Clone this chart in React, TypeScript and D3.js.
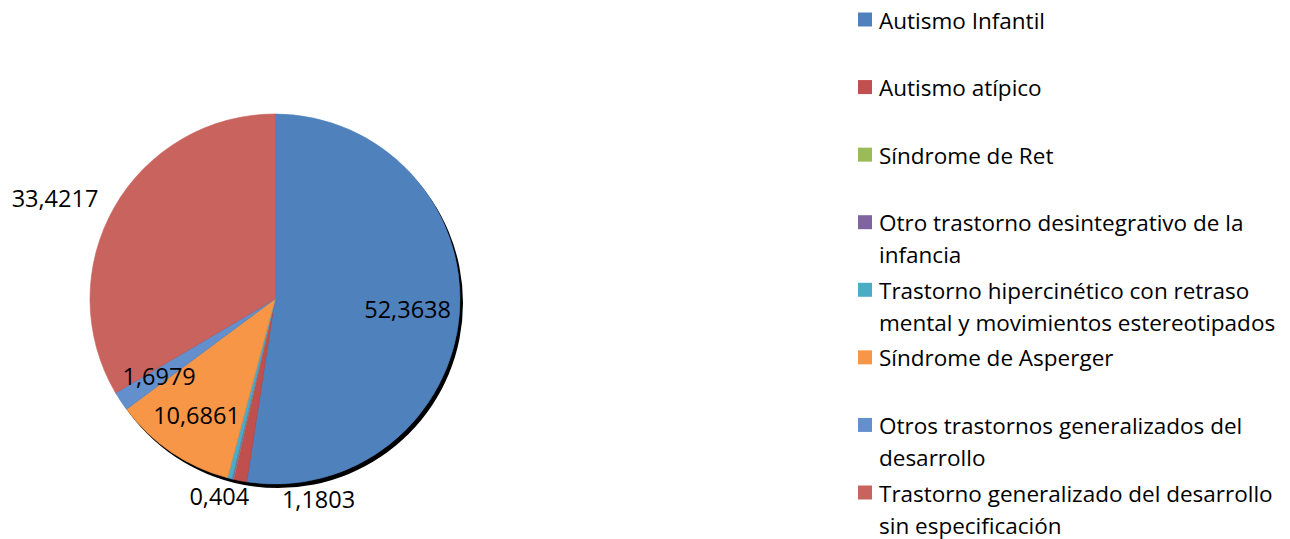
import { useEffect, useMemo } from 'react';
import * as d3 from 'd3';

const CATEGORIES = [
  'Autismo Infantil',
  'Autismo atípico',
  'Síndrome de Ret',
  'Otro trastorno desintegrativo de la\ninfancia',
  'Trastorno hipercinético con retraso\nmental y movimientos estereotipados',
  'Síndrome de Asperger',
  'Otros trastornos generalizados del\ndesarrollo',
  'Trastorno generalizado del desarrollo\nsin especificación',
];
const VALUES = [52.3638, 1.1803, 0, 0.1, 0.404, 10.6861, 1.6979, 33.4217];
const VALUE_LABELS = ['52,3638', '1,1803', '', '', '0,404', '10,6861', '1,6979', '33,4217'];
const SLICE_COLORS = ['#4F81BD', '#C0504D', '#9BBB59', '#8064A2', '#4BACC6', '#F79646', '#6390CC', '#C9635E'];
const OUTSIDE = ['Autismo atípico', 'Trastorno hipercinético con retraso\nmental y movimientos estereotipados', 'Trastorno generalizado del desarrollo\nsin especificación'];

const W = 1290, H = 539;
const FONT = '"Open Sans", Lato, sans-serif';
const LABEL_SIZE = 23.5;
const LEGEND_SIZE = 22.5;

export default function App() {
  useEffect(() => {
    document.body.style.margin = '0';
  }, []);

  const cx = 275, cy = 299, R = 185;

  const arcs = useMemo(() => d3.pie<number>().sort(null).value((d) => d)(VALUES), []);
  const arcGen = d3.arc<d3.PieArcDatum<number>>().innerRadius(0).outerRadius(R);

  // inside labels: start at 0.8R and pull inward until the text box fits; outside: 1.1R, spread apart
  const labels = useMemo(() => {
    const out: { x: number; y: number; anchor: string; text: string; outside: boolean; w: number }[] = [];
    arcs.forEach((a, i) => {
      const text = VALUE_LABELS[i];
      if (!text) return;
      const mid = (a.startAngle + a.endAngle) / 2;
      const outside = OUTSIDE.includes(CATEGORIES[i]);
      const w = text.length * LABEL_SIZE * 0.52, h = LABEL_SIZE * 1.1;
      let r = outside ? R * 1.1 : R * 0.8;
      if (!outside) {
        const far = (rr: number) => {
          const x = Math.sin(mid) * rr, y = -Math.cos(mid) * rr;
          return Math.hypot(Math.abs(x) + w / 2, Math.abs(y) + h / 2);
        };
        while (r > R * 0.5 && far(r) > R * 0.96) r -= 1;
      }
      const x = Math.sin(mid) * r, y = -Math.cos(mid) * r;
      let anchor = 'middle';
      if (outside && Math.abs(Math.sin(mid)) > 0.5) anchor = Math.sin(mid) < 0 ? 'end' : 'start';
      out.push({ x, y, anchor, text, outside, w });
    });
    const bottom = out.filter((l) => l.outside && l.anchor === 'middle').sort((a, b) => a.x - b.x);
    for (let k = 1; k < bottom.length; k++) {
      const prev = bottom[k - 1], cur = bottom[k];
      const minX = prev.x + prev.w / 2 + cur.w / 2 + 26;
      if (cur.x < minX) cur.x = minX;
    }
    if (bottom.length > 1) bottom[0].x -= 6;
    return out;
  }, [arcs]);

  const legendY = d3.scaleLinear().domain([0, CATEGORIES.length - 1]).range([20, 493]);
  const lineH = 32;

  return (
    <svg width={W} height={H} style={{ display: 'block', background: '#fff' }} fontFamily={FONT}>
      <g transform={`translate(${cx},${cy})`}>
        <circle cx={3} cy={4} r={R} fill="#000" />
        {arcs.map((a, i) => (
          <path key={i} d={arcGen(a) ?? ''} fill={SLICE_COLORS[i]} stroke={SLICE_COLORS[i]} strokeWidth={0.6} />
        ))}
        {labels.map((l, i) => (
          <text key={i} x={l.x} y={l.y} textAnchor={l.anchor} dominantBaseline="central" fontSize={LABEL_SIZE} fill="#000">
            {l.text}
          </text>
        ))}
      </g>
      <g>
        {CATEGORIES.map((c, i) => {
          const y0 = legendY(i);
          return (
            <g key={i}>
              <rect x={858} y={y0 - 7.5} width={14} height={14} fill={SLICE_COLORS[i]} />
              {c.split('\n').map((line, j) => (
                <text key={j} x={879} y={y0 + j * lineH} dominantBaseline="central" fontSize={LEGEND_SIZE} fill="#000">
                  {line}
                </text>
              ))}
            </g>
          );
        })}
      </g>
    </svg>
  );
}
